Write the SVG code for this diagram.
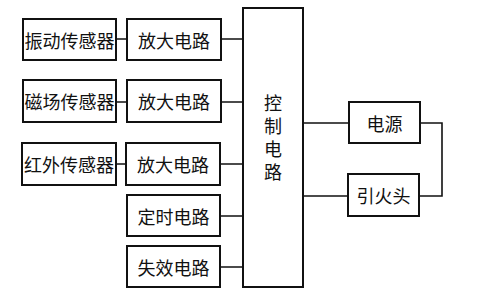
<svg xmlns="http://www.w3.org/2000/svg" width="479" height="295" viewBox="0 0 479 295">
<style>
rect{fill:#fff;stroke:#111;stroke-width:2}
.c{fill:none;stroke:#111;stroke-width:1.6}
text{font-family:"Noto Sans CJK SC","Noto Sans",sans-serif;font-size:18px;fill:#111;text-anchor:middle;dominant-baseline:central}
.v{writing-mode:vertical-rl;letter-spacing:5px}
</style>
<rect x="0" y="0" width="479" height="295" style="stroke:none"/>
<g id="connectors">
<path class="c" d="M116 39H127M221 39H243M116 102H127M221 102H243M116 164H127M220 164H243M220 216H243M220 267H243M303 123H349M303 196H348M420 123H442V196H419"/>
</g>
<g id="s1"><rect x="23" y="19" width="93" height="41"/><text x="69.5" y="39.5">振动传感器</text></g>
<g id="a1"><rect x="127" y="19" width="94" height="41"/><text x="174" y="39.5">放大电路</text></g>
<g id="s2"><rect x="23" y="80" width="93" height="42"/><text x="69.5" y="101">磁场传感器</text></g>
<g id="a2"><rect x="127" y="80" width="94" height="42"/><text x="174" y="101">放大电路</text></g>
<g id="s3"><rect x="22" y="143" width="94" height="42"/><text x="69" y="164">红外传感器</text></g>
<g id="a3"><rect x="126" y="143" width="94" height="42"/><text x="173" y="164">放大电路</text></g>
<g id="timer"><rect x="127" y="195" width="93" height="41"/><text x="173.5" y="215.5">定时电路</text></g>
<g id="fail"><rect x="127" y="246" width="93" height="41"/><text x="173.5" y="266.5">失效电路</text></g>
<g id="control"><rect x="243" y="8" width="60" height="279"/>
<text class="v" x="273" y="140">控制电路</text></g>
<g id="power"><rect x="349" y="102" width="71" height="41"/><text x="384.5" y="123">电源</text></g>
<g id="igniter"><rect x="348" y="174" width="71" height="42"/><text x="383.5" y="195">引火头</text></g>
</svg>
